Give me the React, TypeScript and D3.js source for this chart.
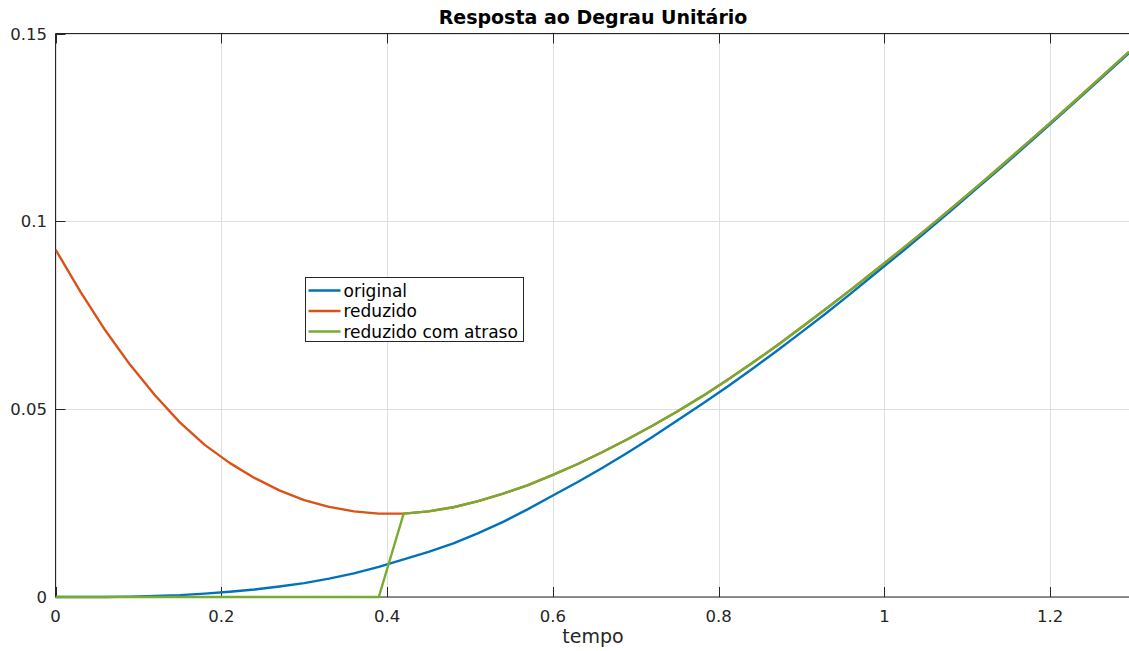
import React from "react";
import * as d3 from "d3";

const timeSteps: number[] = [
  0, 0.03, 0.06, 0.09, 0.12, 0.15, 0.18, 0.21, 0.24, 0.27, 0.3, 0.33, 0.36, 0.39,
  0.42, 0.45, 0.48, 0.51, 0.54, 0.57, 0.6, 0.63, 0.66, 0.69, 0.72, 0.75, 0.78,
  0.81, 0.84, 0.87, 0.9, 0.93, 0.96, 0.99, 1.02, 1.05, 1.08, 1.11, 1.14, 1.17,
  1.2, 1.23, 1.26, 1.29, 1.295,
];

const original: number[] = [
  0, 0, 0.00002, 0.0001, 0.0003, 0.0005, 0.0009, 0.0014, 0.002, 0.0028, 0.0037,
  0.0049, 0.0063, 0.0080, 0.0100, 0.0120, 0.0143, 0.0170, 0.0200, 0.0234, 0.0270,
  0.0306, 0.0344, 0.0384, 0.0426, 0.0470, 0.0514, 0.0559, 0.0606, 0.0655, 0.0705,
  0.0756, 0.0809, 0.0863, 0.0917, 0.0972, 0.1028, 0.1085, 0.1142, 0.1200, 0.1259,
  0.1318, 0.1378, 0.1438, 0.1448,
];

const reduzido: number[] = [
  0.0925, 0.0813, 0.071, 0.0618, 0.0537, 0.0465, 0.0405, 0.0357, 0.0317, 0.0284,
  0.0258, 0.024, 0.0228, 0.0222, 0.0222, 0.0228, 0.0239, 0.0255, 0.0275, 0.0298,
  0.0325, 0.0354, 0.0386, 0.042, 0.0456, 0.0494, 0.0534, 0.0577, 0.0622, 0.0669,
  0.0718, 0.0768, 0.0819, 0.0871, 0.0924, 0.0978, 0.1033, 0.1089, 0.1146, 0.1204,
  0.1262, 0.1321, 0.1381, 0.1441, 0.1451,
];

const reduzidoAtraso: number[] = [
  0, 0, 0, 0, 0, 0, 0, 0, 0, 0, 0, 0, 0, 0, 0.0222, 0.0228, 0.0239, 0.0255,
  0.0275, 0.0298, 0.0325, 0.0354, 0.0386, 0.042, 0.0456, 0.0494, 0.0534, 0.0577,
  0.0622, 0.0669, 0.0718, 0.0768, 0.0819, 0.0871, 0.0924, 0.0978, 0.1033, 0.1089,
  0.1146, 0.1204, 0.1262, 0.1321, 0.1381, 0.1441, 0.1451,
];

const xTicks: number[] = [0, 0.2, 0.4, 0.6, 0.8, 1, 1.2];
const yTicks: number[] = [0, 0.05, 0.1, 0.15];
const seriesNames: string[] = ["original", "reduzido", "reduzido com atraso"];
const seriesColors: string[] = ["#0072BD", "#D95319", "#77AC30"];

const W = 1129;
const H = 651;
const left = 55.5;
const right = 1129;
const top = 33.5;
const bottom = 597;

export default function App() {
  const x = d3.scaleLinear().domain([0, 1.295]).range([left, right]);
  const y = d3.scaleLinear().domain([0, 0.15]).range([bottom, top]);
  const allSeries = [original, reduzido, reduzidoAtraso];
  const line = d3
    .line<[number, number]>()
    .x((d) => x(d[0]))
    .y((d) => y(d[1]));
  const drawOrder = [0, 1, 2];
  const font = "DejaVu Sans, sans-serif";
  const tickColor = "#262626";
  const lx = 305.5;
  const ly = 277.5;

  return (
    <svg
      width={W}
      height={H}
      style={{ position: "absolute", left: 0, top: 0, background: "#fff" }}
      fontFamily={font}
    >
      <rect x={0} y={0} width={W} height={H} fill="#fff" />
      {xTicks.map((t) => (
        <line key={"gx" + t} x1={Math.round(x(t)) + 0.5} x2={Math.round(x(t)) + 0.5} y1={top} y2={bottom} stroke="#dfdfdf" strokeWidth={1} />
      ))}
      {yTicks.map((t) => (
        <line key={"gy" + t} x1={left} x2={right} y1={Math.round(y(t)) + 0.5} y2={Math.round(y(t)) + 0.5} stroke="#dfdfdf" strokeWidth={1} />
      ))}
      <line x1={left} x2={left} y1={top} y2={bottom} stroke={tickColor} strokeWidth={1} />
      <line x1={left} x2={right} y1={bottom} y2={bottom} stroke={tickColor} strokeWidth={1} />
      <line x1={left} x2={right} y1={top} y2={top} stroke={tickColor} strokeWidth={1} />
      {xTicks.map((t) => (
        <g key={"tx" + t}>
          <line x1={Math.round(x(t)) + 0.5} x2={Math.round(x(t)) + 0.5} y1={bottom} y2={bottom - 10} stroke={tickColor} />
          <line x1={Math.round(x(t)) + 0.5} x2={Math.round(x(t)) + 0.5} y1={top} y2={top + 10} stroke={tickColor} />
          <text x={x(t)} y={622} textAnchor="middle" fontSize={16.5} fill={tickColor}>
            {String(t)}
          </text>
        </g>
      ))}
      {yTicks.map((t) => (
        <g key={"ty" + t}>
          <line x1={left} x2={left + 10} y1={Math.round(y(t)) + 0.5} y2={Math.round(y(t)) + 0.5} stroke={tickColor} />
          <text x={47} y={y(t) + 6} textAnchor="end" fontSize={16.5} fill={tickColor}>
            {String(t)}
          </text>
        </g>
      ))}
      <defs>
        <clipPath id="clip">
          <rect x={left} y={top - 2} width={right - left} height={bottom - top + 4} />
        </clipPath>
      </defs>
      <g clipPath="url(#clip)">
        {drawOrder.map((i) => (
          <path
            key={"s" + i}
            d={line(timeSteps.map((t, k) => [t, allSeries[i][k]] as [number, number])) || ""}
            fill="none"
            stroke={seriesColors[i]}
            strokeWidth={2.4}
            strokeLinejoin="round"
          />
        ))}
      </g>
      <text x={593} y={24} textAnchor="middle" fontSize={19} fontWeight="bold" fill="#000">
        Resposta ao Degrau Unitário
      </text>
      <text x={593} y={643} textAnchor="middle" fontSize={19} fill={tickColor}>
        tempo
      </text>
      <rect x={lx} y={ly} width={218} height={64} fill="#fff" stroke="#262626" strokeWidth={1} />
      {seriesNames.map((n, i) => (
        <g key={"lg" + n}>
          <line x1={lx + 3} x2={lx + 35} y1={ly + 13 + i * 20.5} y2={ly + 13 + i * 20.5} stroke={seriesColors[i]} strokeWidth={2.4} />
          <text x={lx + 38} y={ly + 19 + i * 20.5} fontSize={17} fill="#000">
            {n}
          </text>
        </g>
      ))}
    </svg>
  );
}
